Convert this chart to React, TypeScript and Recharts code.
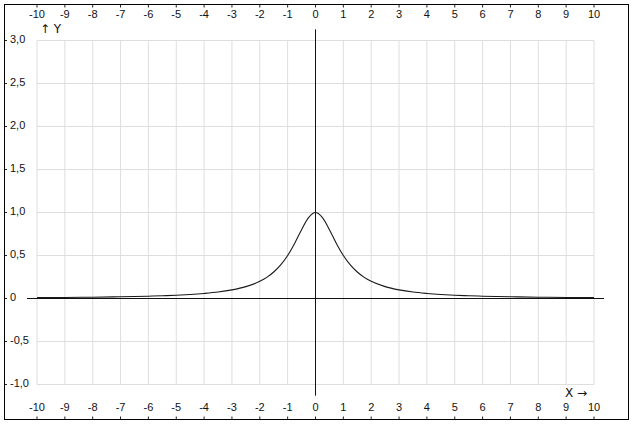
import { LineChart, Line, XAxis, YAxis, CartesianGrid, ReferenceLine } from 'recharts';

// points (symmetric bump, peak 1,0 at x = 0)
const xValues = [
  -10, -9, -8, -7, -6, -5.5, -5, -4.5, -4, -3.5, -3, -2.5, -2, -1.75, -1.5, -1.25, -1, -0.75, -0.5, -0.25,
  0, 0.25, 0.5, 0.75, 1, 1.25, 1.5, 1.75, 2, 2.5, 3, 3.5, 4, 4.5, 5, 5.5, 6, 7, 8, 9, 10,
];
const yValues = [
  0.01, 0.012, 0.015, 0.02, 0.027, 0.032, 0.038, 0.047, 0.059, 0.075, 0.1, 0.138, 0.2, 0.246, 0.308, 0.39, 0.5, 0.64, 0.8, 0.94,
  1.0, 0.94, 0.8, 0.64, 0.5, 0.39, 0.308, 0.246, 0.2, 0.138, 0.1, 0.075, 0.059, 0.047, 0.038, 0.032, 0.027, 0.02, 0.015, 0.012, 0.01,
];

const xTicks = [-10, -9, -8, -7, -6, -5, -4, -3, -2, -1, 0, 1, 2, 3, 4, 5, 6, 7, 8, 9, 10];
const yTicks = [-1, -0.5, 0, 0.5, 1, 1.5, 2, 2.5, 3];

const data = xValues.map((x, i) => ({ x, y: yValues[i] }));

const FONT = '"Liberation Sans", Arial, sans-serif';
const fmtY = (v: number) => (v === 0 ? '0' : v.toFixed(1).replace('.', ','));

const BottomTick = ({ x, y, payload }: any) => (
  <g>
    <text x={x} y={y + 24} textAnchor="middle" dominantBaseline="middle" fontSize={11} fontFamily={FONT} fill="#111">
      {payload.value}
    </text>
    <line x1={x} x2={x} y1={y + 32} y2={y + 35} stroke="#222" />
  </g>
);

const TopTick = ({ x, y, payload }: any) => (
  <g>
    <text x={x} y={y - 25} textAnchor="middle" dominantBaseline="middle" fontSize={11} fontFamily={FONT} fill="#111">
      {payload.value}
    </text>
    <line x1={x} x2={x} y1={y - 36} y2={y - 33} stroke="#222" />
  </g>
);

const LeftTick = ({ x, y, payload }: any) => (
  <g>
    <text x={x - 27} y={y} textAnchor="start" dominantBaseline="middle" fontSize={11} fontFamily={FONT} fill="#111">
      {fmtY(payload.value)}
    </text>
    <line x1={x - 33} x2={x - 30} y1={y} y2={y} stroke="#222" />
  </g>
);

const RightTick = ({ x, y, payload }: any) => (
  <g>
    <text x={x + 26} y={y} textAnchor="end" dominantBaseline="middle" fontSize={11} fontFamily={FONT} fill="#111">
      {fmtY(payload.value)}
    </text>
    <line x1={x + 31} x2={x + 34} y1={y} y2={y} stroke="#222" />
  </g>
);

const arrowStyle = {
  position: 'absolute' as const,
  fontFamily: '"DejaVu Sans", sans-serif',
  fontSize: 12,
  color: '#111',
  lineHeight: '14px',
  whiteSpace: 'nowrap' as const,
};

export default function App() {
  return (
    <div style={{ position: 'relative', width: 633, height: 429, background: '#fff' }}>
      <style>{'body{margin:0}'}</style>
      <div style={{ transform: 'translate(0px, 0.5px)' }}>
        <LineChart width={633} height={429} data={data} margin={{ top: 0, right: 0, bottom: 0, left: 0 }}>
          <CartesianGrid xAxisId="bottom" yAxisId="left" stroke="#dedede" />
          <XAxis
            xAxisId="top"
            orientation="top"
            type="number"
            dataKey="x"
            domain={[-10, 10]}
            ticks={xTicks}
            height={40}
            axisLine={false}
            tickLine={false}
            tickSize={0}
            tickMargin={0}
            tick={<TopTick />}
            interval={0}
          />
          <XAxis
            xAxisId="bottom"
            orientation="bottom"
            type="number"
            dataKey="x"
            domain={[-10, 10]}
            ticks={xTicks}
            height={45}
            axisLine={false}
            tickLine={false}
            tickSize={0}
            tickMargin={0}
            tick={<BottomTick />}
            interval={0}
          />
          <YAxis
            yAxisId="left"
            orientation="left"
            type="number"
            domain={[-1, 3]}
            ticks={yTicks}
            width={37}
            axisLine={false}
            tickLine={false}
            tickSize={0}
            tickMargin={0}
            tick={<LeftTick />}
            interval={0}
          />
          <YAxis
            yAxisId="right"
            orientation="right"
            type="number"
            domain={[-1, 3]}
            ticks={yTicks}
            width={39}
            axisLine={false}
            tickLine={false}
            tickSize={0}
            tickMargin={0}
            tick={<RightTick />}
            interval={0}
          />
          <ReferenceLine
            xAxisId="bottom"
            yAxisId="left"
            ifOverflow="visible"
            segment={[{ x: -10.36, y: 0 }, { x: 10.36, y: 0 }]}
            stroke="#111"
          />
          <ReferenceLine
            xAxisId="bottom"
            yAxisId="left"
            ifOverflow="visible"
            segment={[{ x: 0, y: 3.13 }, { x: 0, y: -1.13 }]}
            stroke="#111"
          />
          <Line
            xAxisId="bottom"
            yAxisId="left"
            type="monotone"
            dataKey="y"
            stroke="#1a1a1a"
            strokeWidth={1.1}
            dot={false}
            isAnimationActive={false}
          />
        </LineChart>
      </div>
      <div
        style={{
          position: 'absolute',
          left: 4,
          top: 4,
          width: 625,
          height: 416,
          boxSizing: 'border-box',
          border: '1px solid #000',
          pointerEvents: 'none',
        }}
      />
      <div style={{ ...arrowStyle, left: 40, top: 22 }}>↑ Y</div>
      <div style={{ ...arrowStyle, left: 565, top: 386 }}>X →</div>
    </div>
  );
}
